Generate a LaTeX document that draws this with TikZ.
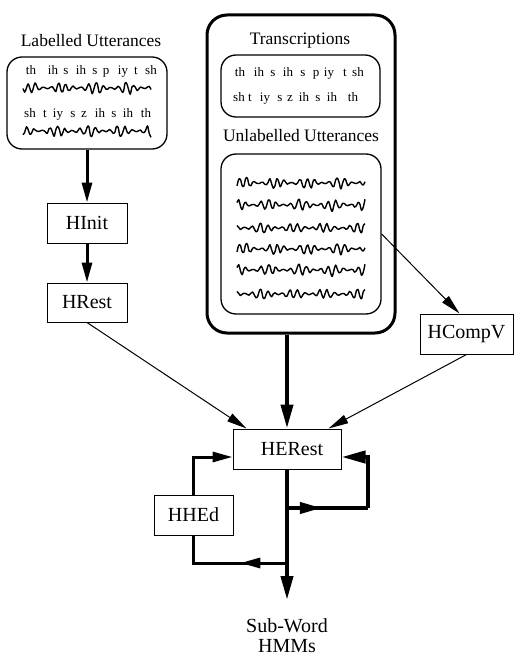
\documentclass[tikz,border=0pt]{standalone}
\usepackage{fontspec}
\setmainfont{Liberation Serif}
\usetikzlibrary{arrows.meta,calc}
\newcommand\mywave[3]{%
  \pgfmathsetseed{#3}%
  \draw[wave] plot[smooth, tension=0.6, domain=0:128, samples=75, variable=\t]
    ({#1+\t},{#2-(0.12+0.88*(sin(\t*5.6+#3*37))^2)*(5.2*sin(\t*48+#3*50+20*sin(\t*9))+1.6*rand)});%
}
\begin{document}
\begin{tikzpicture}[x=1pt,y=-1pt,
  every node/.style={inner sep=0pt},
  prog/.style={draw, line width=1pt, font=\fontsize{20}{20}\selectfont},
  rbox/.style={draw, line width=1.3pt, rounded corners=15pt},
  lab/.style={font=\fontsize{17.5}{18}\selectfont, anchor=base},
  ph/.style={font=\fontsize{13}{13}\selectfont, anchor=base},
  wave/.style={line width=1.4pt, line join=round},
  thickarr/.style={line width=4pt, -{Triangle[length=24pt,width=12pt]}},
  medarr/.style={line width=3pt, -{Triangle[length=20pt,width=10pt]}},
  thinarr/.style={line width=1pt, -{Triangle[length=20pt,width=9pt]}}
]
\useasboundingbox (0,0) rectangle (520,663);

% left: labelled utterances
\node[lab] (lu) at (91,47) {Labelled Utterances};
\node[rbox, minimum width=160pt, minimum height=92pt] (lbox) at (87,103) {};
\foreach \p/\x [count=\i] in {th/31,ih/53,s/66,ih/81,s/95,p/106,iy/123,t/136,sh/151}
  \node[ph] (la\i) at (\x,75) {\p};
\foreach \p/\x [count=\i] in {sh/30,t/45,iy/58,s/73,z/84,ih/100,s/114,ih/128,th/146}
  \node[ph] (lb\i) at (\x,118) {\p};
\mywave{23}{88}{11}
\mywave{23}{131}{12}

\node[prog, minimum width=80pt, minimum height=40pt] (hinit) at (87,223) {HInit};
\node[prog, minimum width=80pt, minimum height=39pt] (hrest) at (87,302.5) {HRest};

% big box
\node[draw, line width=3pt, rounded corners=20pt, minimum width=188pt, minimum height=318pt] (big) at (301,174) {};
\node[lab] (tr) at (300,45) {Transcriptions};
\node[rbox, minimum width=159pt, minimum height=62pt] (tbox) at (300.5,86) {};
\foreach \p/\x [count=\i] in {th/240,ih/259,s/273,ih/288,s/303,p/316,iy/329,t/345,sh/358}
  \node[ph] (ta\i) at (\x,77) {\p};
\foreach \p/\x [count=\i] in {sh/239,t/250,iy/265,s/280,z/290,ih/304,s/318,ih/332,th/353}
  \node[ph] (tb\i) at (\x,102) {\p};
\node[lab] (uu) at (301,142) {Unlabelled Utterances};
\node[rbox, minimum width=160pt, minimum height=160pt] (ubox) at (301,234) {};
\mywave{237}{183}{21}
\mywave{237}{205}{22}
\mywave{237}{228}{23}
\mywave{237}{249}{21}
\mywave{237}{270}{22}
\mywave{237}{294}{23}

\node[prog, minimum width=93pt, minimum height=40pt] (hcompv) at (466.5,334) {HCompV};
\node[prog, minimum width=108pt, minimum height=40pt] (herest) at (287,449) {\hspace*{10pt}HERest};
\node[prog, minimum width=79pt, minimum height=40pt] (hhed) at (193.5,515) {HHEd};
\node[font=\fontsize{20}{20}\selectfont, align=center, anchor=north] (out) at (287,618) {Sub-Word\\HMMs};

% coordinates
\coordinate (outtip) at (287,600);
\coordinate (jr) at (287,508);
\coordinate (cr) at (368,508);
\coordinate (midR) at ($(jr)!0.43!(cr)$);
\coordinate (entR) at ($(herest.east)+(0,8)$);
\coordinate (jl) at (287,563);
\coordinate (cl) at (jl -| hhed.south);
\coordinate (midL) at ($(jl)!0.5!(cl)$);
\coordinate (entL) at ($(herest.west)+(0,8)$);

% connectors
\draw[medarr] (lbox.south) -- (hinit.north);
\draw[medarr] (hinit.south) -- (hrest.north);
\draw[thinarr] (hrest.south) -- ($(herest.north west)+(14,0)$);
\draw[thinarr] (ubox.east) -- ($(hcompv.north)+(-7,0)$);
\draw[thinarr] (hcompv.south) -- ($(herest.north east)+(-13,0)$);
\draw[thickarr] (big.south -| herest.north) -- (herest.north);
\draw[thickarr] (herest.south) -- (outtip);
\draw[line width=4pt] (jr) -- (cr);
\draw[thickarr] (cr) |- (entR);
\draw[line width=4pt, -{Triangle[length=22pt,width=11pt]}] (jr) -- (midR);
\draw[line width=3pt] (jl) -- (cl) -- (hhed.south);
\draw[line width=3pt, -{Triangle[length=20pt,width=10pt]}] (jl) -- (midL);
\draw[medarr] (hhed.north) |- (entL);
\end{tikzpicture}
\end{document}
